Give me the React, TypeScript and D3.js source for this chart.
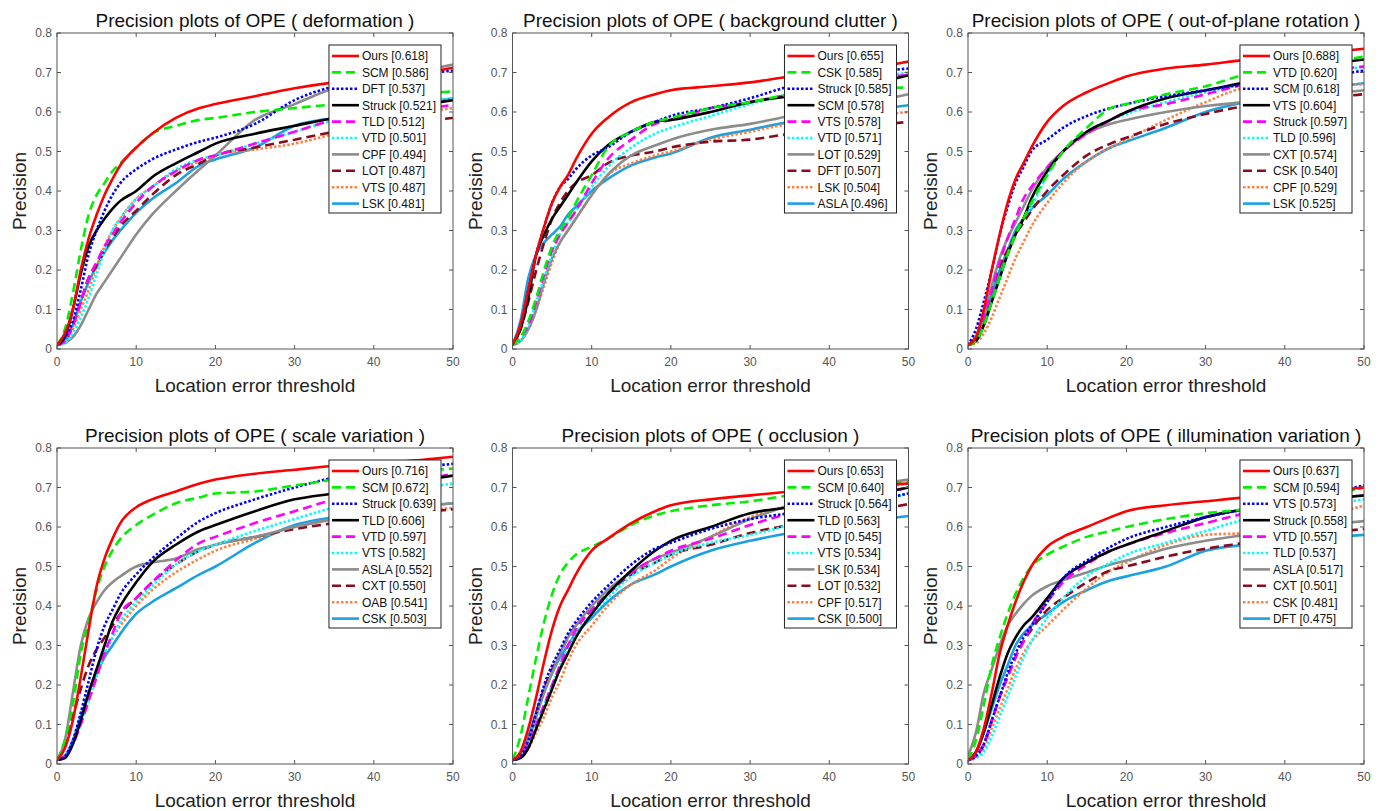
import React from "react";
import * as d3 from "d3";

// ---------------- data ----------------
const thresholds = [0, 1, 2, 3, 4, 5, 6, 7, 8, 10, 12, 15, 18, 20, 25, 30, 35, 40, 45, 50];
const yTicks = [0, 0.1, 0.2, 0.3, 0.4, 0.5, 0.6, 0.7, 0.8];
const xTicks = [0, 10, 20, 30, 40, 50];

const deformationNames = ["Ours", "SCM", "DFT", "Struck", "TLD", "VTD", "CPF", "LOT", "VTS", "LSK"];
const deformationScores = ["0.618", "0.586", "0.537", "0.521", "0.512", "0.501", "0.494", "0.487", "0.487", "0.481"];
const deformationCurves = [
  [0.01, 0.04, 0.10, 0.20, 0.28, 0.34, 0.39, 0.43, 0.465, 0.51, 0.545, 0.585, 0.61, 0.62, 0.64, 0.66, 0.675, 0.685, 0.695, 0.712],
  [0.01, 0.05, 0.14, 0.25, 0.34, 0.39, 0.42, 0.45, 0.47, 0.51, 0.545, 0.565, 0.58, 0.585, 0.60, 0.61, 0.62, 0.635, 0.645, 0.652],
  [0.01, 0.03, 0.07, 0.15, 0.24, 0.30, 0.35, 0.39, 0.42, 0.455, 0.48, 0.505, 0.525, 0.535, 0.57, 0.63, 0.665, 0.685, 0.695, 0.705],
  [0.01, 0.03, 0.10, 0.19, 0.26, 0.30, 0.33, 0.355, 0.375, 0.40, 0.435, 0.47, 0.50, 0.52, 0.545, 0.565, 0.585, 0.60, 0.615, 0.63],
  [0.01, 0.02, 0.06, 0.12, 0.18, 0.22, 0.26, 0.29, 0.32, 0.37, 0.41, 0.45, 0.48, 0.49, 0.52, 0.55, 0.58, 0.595, 0.605, 0.618],
  [0.01, 0.015, 0.04, 0.08, 0.13, 0.19, 0.25, 0.30, 0.33, 0.38, 0.41, 0.455, 0.48, 0.49, 0.52, 0.55, 0.58, 0.60, 0.62, 0.635],
  [0.01, 0.015, 0.03, 0.06, 0.10, 0.14, 0.17, 0.20, 0.23, 0.29, 0.34, 0.40, 0.455, 0.49, 0.58, 0.62, 0.66, 0.68, 0.70, 0.72],
  [0.01, 0.02, 0.06, 0.12, 0.18, 0.21, 0.25, 0.28, 0.31, 0.35, 0.39, 0.44, 0.47, 0.49, 0.51, 0.53, 0.55, 0.565, 0.575, 0.585],
  [0.01, 0.02, 0.05, 0.10, 0.15, 0.21, 0.26, 0.30, 0.33, 0.38, 0.41, 0.45, 0.475, 0.49, 0.505, 0.52, 0.545, 0.575, 0.595, 0.61],
  [0.01, 0.02, 0.06, 0.12, 0.17, 0.21, 0.245, 0.275, 0.30, 0.345, 0.38, 0.42, 0.465, 0.48, 0.51, 0.565, 0.585, 0.60, 0.62, 0.635],
];

const clutterNames = ["Ours", "CSK", "Struck", "SCM", "VTS", "VTD", "LOT", "DFT", "LSK", "ASLA"];
const clutterScores = ["0.655", "0.585", "0.585", "0.578", "0.578", "0.571", "0.529", "0.507", "0.504", "0.496"];
const clutterCurves = [
  [0.01, 0.06, 0.15, 0.24, 0.31, 0.37, 0.41, 0.44, 0.48, 0.545, 0.585, 0.625, 0.645, 0.655, 0.665, 0.675, 0.69, 0.70, 0.71, 0.728],
  [0.01, 0.03, 0.07, 0.13, 0.20, 0.26, 0.30, 0.33, 0.37, 0.44, 0.51, 0.55, 0.575, 0.585, 0.61, 0.625, 0.645, 0.655, 0.66, 0.662],
  [0.01, 0.06, 0.15, 0.24, 0.31, 0.37, 0.41, 0.43, 0.455, 0.49, 0.51, 0.55, 0.575, 0.59, 0.61, 0.635, 0.665, 0.685, 0.70, 0.71],
  [0.01, 0.05, 0.13, 0.24, 0.29, 0.33, 0.36, 0.39, 0.42, 0.475, 0.515, 0.55, 0.575, 0.58, 0.60, 0.625, 0.64, 0.655, 0.67, 0.693],
  [0.01, 0.03, 0.06, 0.12, 0.19, 0.25, 0.29, 0.32, 0.35, 0.42, 0.48, 0.53, 0.57, 0.58, 0.61, 0.625, 0.645, 0.665, 0.68, 0.695],
  [0.01, 0.02, 0.06, 0.12, 0.18, 0.24, 0.29, 0.32, 0.35, 0.41, 0.46, 0.51, 0.545, 0.56, 0.59, 0.62, 0.645, 0.665, 0.685, 0.70],
  [0.01, 0.02, 0.05, 0.10, 0.17, 0.23, 0.27, 0.30, 0.33, 0.39, 0.44, 0.49, 0.515, 0.53, 0.555, 0.57, 0.59, 0.61, 0.625, 0.645],
  [0.01, 0.05, 0.12, 0.20, 0.27, 0.33, 0.37, 0.40, 0.42, 0.44, 0.47, 0.49, 0.50, 0.51, 0.525, 0.53, 0.545, 0.555, 0.565, 0.575],
  [0.01, 0.02, 0.05, 0.10, 0.16, 0.22, 0.27, 0.30, 0.33, 0.39, 0.44, 0.47, 0.49, 0.50, 0.53, 0.55, 0.57, 0.58, 0.59, 0.60],
  [0.01, 0.07, 0.18, 0.24, 0.27, 0.29, 0.31, 0.34, 0.36, 0.40, 0.43, 0.465, 0.485, 0.495, 0.535, 0.555, 0.575, 0.59, 0.605, 0.617],
];

const rotationNames = ["Ours", "VTD", "SCM", "VTS", "Struck", "TLD", "CXT", "CSK", "CPF", "LSK"];
const rotationScores = ["0.688", "0.620", "0.618", "0.604", "0.597", "0.596", "0.574", "0.540", "0.529", "0.525"];
const rotationCurves = [
  [0.01, 0.03, 0.10, 0.20, 0.29, 0.37, 0.43, 0.47, 0.51, 0.575, 0.615, 0.65, 0.675, 0.69, 0.71, 0.72, 0.732, 0.74, 0.75, 0.76],
  [0.01, 0.02, 0.06, 0.12, 0.18, 0.24, 0.29, 0.33, 0.37, 0.44, 0.50, 0.56, 0.61, 0.62, 0.645, 0.665, 0.695, 0.71, 0.725, 0.74],
  [0.01, 0.05, 0.12, 0.20, 0.29, 0.36, 0.42, 0.46, 0.50, 0.53, 0.56, 0.59, 0.61, 0.62, 0.64, 0.655, 0.67, 0.68, 0.69, 0.705],
  [0.01, 0.02, 0.06, 0.12, 0.18, 0.24, 0.29, 0.33, 0.38, 0.45, 0.50, 0.55, 0.58, 0.60, 0.635, 0.655, 0.675, 0.70, 0.72, 0.733],
  [0.01, 0.03, 0.08, 0.15, 0.22, 0.28, 0.33, 0.38, 0.41, 0.46, 0.50, 0.545, 0.58, 0.60, 0.62, 0.645, 0.67, 0.69, 0.705, 0.715],
  [0.01, 0.02, 0.06, 0.12, 0.18, 0.24, 0.29, 0.33, 0.36, 0.44, 0.50, 0.55, 0.58, 0.595, 0.625, 0.65, 0.67, 0.685, 0.70, 0.715],
  [0.01, 0.03, 0.08, 0.16, 0.23, 0.28, 0.32, 0.36, 0.40, 0.46, 0.50, 0.545, 0.57, 0.58, 0.60, 0.615, 0.625, 0.635, 0.645, 0.655],
  [0.01, 0.03, 0.08, 0.15, 0.21, 0.25, 0.29, 0.32, 0.35, 0.40, 0.44, 0.49, 0.52, 0.535, 0.57, 0.595, 0.615, 0.625, 0.635, 0.645],
  [0.01, 0.015, 0.04, 0.08, 0.13, 0.18, 0.23, 0.27, 0.31, 0.37, 0.42, 0.475, 0.51, 0.53, 0.58, 0.625, 0.66, 0.665, 0.668, 0.67],
  [0.01, 0.02, 0.07, 0.14, 0.20, 0.25, 0.30, 0.33, 0.355, 0.39, 0.43, 0.475, 0.51, 0.525, 0.56, 0.60, 0.625, 0.645, 0.66, 0.673],
];

const scaleNames = ["Ours", "SCM", "Struck", "TLD", "VTD", "VTS", "ASLA", "CXT", "OAB", "CSK"];
const scaleScores = ["0.716", "0.672", "0.639", "0.606", "0.597", "0.582", "0.552", "0.550", "0.541", "0.503"];
const scaleCurves = [
  [0.01, 0.04, 0.11, 0.22, 0.34, 0.45, 0.52, 0.57, 0.61, 0.65, 0.67, 0.69, 0.71, 0.72, 0.735, 0.745, 0.755, 0.76, 0.768, 0.778],
  [0.01, 0.06, 0.15, 0.28, 0.36, 0.44, 0.50, 0.54, 0.57, 0.605, 0.63, 0.66, 0.675, 0.685, 0.69, 0.705, 0.72, 0.73, 0.74, 0.748],
  [0.01, 0.02, 0.06, 0.13, 0.21, 0.29, 0.35, 0.39, 0.43, 0.48, 0.52, 0.57, 0.615, 0.635, 0.67, 0.70, 0.725, 0.74, 0.75, 0.76],
  [0.01, 0.015, 0.05, 0.11, 0.18, 0.24, 0.30, 0.36, 0.40, 0.46, 0.51, 0.555, 0.59, 0.605, 0.64, 0.67, 0.685, 0.70, 0.715, 0.73],
  [0.01, 0.02, 0.05, 0.10, 0.16, 0.22, 0.28, 0.33, 0.38, 0.42, 0.46, 0.515, 0.56, 0.575, 0.61, 0.64, 0.67, 0.695, 0.715, 0.735],
  [0.01, 0.02, 0.05, 0.10, 0.16, 0.22, 0.28, 0.32, 0.36, 0.41, 0.45, 0.505, 0.54, 0.555, 0.59, 0.62, 0.65, 0.675, 0.695, 0.71],
  [0.01, 0.06, 0.18, 0.30, 0.37, 0.41, 0.44, 0.46, 0.475, 0.50, 0.51, 0.52, 0.545, 0.555, 0.575, 0.60, 0.62, 0.635, 0.65, 0.66],
  [0.01, 0.05, 0.12, 0.19, 0.25, 0.29, 0.32, 0.35, 0.38, 0.42, 0.46, 0.505, 0.54, 0.555, 0.575, 0.595, 0.61, 0.625, 0.635, 0.645],
  [0.01, 0.02, 0.05, 0.11, 0.18, 0.24, 0.28, 0.32, 0.35, 0.40, 0.44, 0.485, 0.52, 0.54, 0.57, 0.60, 0.62, 0.63, 0.64, 0.648],
  [0.01, 0.02, 0.06, 0.12, 0.18, 0.23, 0.27, 0.30, 0.33, 0.38, 0.41, 0.445, 0.48, 0.50, 0.56, 0.605, 0.625, 0.64, 0.65, 0.66],
];

const occlusionNames = ["Ours", "SCM", "Struck", "TLD", "VTD", "VTS", "LSK", "LOT", "CPF", "CSK"];
const occlusionScores = ["0.653", "0.640", "0.564", "0.563", "0.545", "0.534", "0.534", "0.532", "0.517", "0.500"];
const occlusionCurves = [
  [0.01, 0.03, 0.09, 0.17, 0.26, 0.34, 0.40, 0.44, 0.48, 0.54, 0.57, 0.61, 0.64, 0.655, 0.67, 0.68, 0.69, 0.70, 0.705, 0.71],
  [0.01, 0.07, 0.17, 0.27, 0.36, 0.43, 0.48, 0.51, 0.53, 0.55, 0.57, 0.605, 0.63, 0.64, 0.655, 0.665, 0.68, 0.69, 0.70, 0.715],
  [0.01, 0.02, 0.06, 0.13, 0.20, 0.25, 0.29, 0.33, 0.36, 0.41, 0.45, 0.505, 0.545, 0.56, 0.595, 0.62, 0.635, 0.65, 0.665, 0.685],
  [0.01, 0.015, 0.04, 0.09, 0.14, 0.19, 0.24, 0.28, 0.32, 0.38, 0.43, 0.49, 0.54, 0.565, 0.60, 0.635, 0.65, 0.665, 0.68, 0.70],
  [0.01, 0.02, 0.05, 0.10, 0.15, 0.20, 0.25, 0.30, 0.34, 0.39, 0.43, 0.485, 0.52, 0.54, 0.57, 0.605, 0.635, 0.66, 0.68, 0.70],
  [0.01, 0.02, 0.05, 0.10, 0.15, 0.20, 0.25, 0.29, 0.33, 0.38, 0.42, 0.475, 0.51, 0.53, 0.56, 0.58, 0.605, 0.635, 0.66, 0.685],
  [0.01, 0.02, 0.06, 0.12, 0.18, 0.23, 0.28, 0.32, 0.35, 0.40, 0.44, 0.485, 0.52, 0.535, 0.575, 0.62, 0.655, 0.685, 0.705, 0.72],
  [0.01, 0.02, 0.06, 0.13, 0.19, 0.24, 0.28, 0.32, 0.35, 0.39, 0.43, 0.48, 0.51, 0.53, 0.555, 0.585, 0.605, 0.625, 0.64, 0.658],
  [0.01, 0.015, 0.04, 0.08, 0.12, 0.17, 0.21, 0.26, 0.30, 0.35, 0.40, 0.455, 0.49, 0.52, 0.575, 0.625, 0.655, 0.675, 0.695, 0.71],
  [0.01, 0.02, 0.07, 0.13, 0.19, 0.23, 0.27, 0.30, 0.33, 0.37, 0.41, 0.455, 0.48, 0.50, 0.54, 0.565, 0.585, 0.60, 0.615, 0.628],
];

const illuminationNames = ["Ours", "SCM", "VTS", "Struck", "VTD", "TLD", "ASLA", "CXT", "CSK", "DFT"];
const illuminationScores = ["0.637", "0.594", "0.573", "0.558", "0.557", "0.537", "0.517", "0.501", "0.481", "0.475"];
const illuminationCurves = [
  [0.01, 0.03, 0.09, 0.18, 0.28, 0.35, 0.41, 0.46, 0.50, 0.55, 0.575, 0.60, 0.625, 0.64, 0.655, 0.665, 0.675, 0.68, 0.69, 0.70],
  [0.01, 0.06, 0.15, 0.25, 0.32, 0.38, 0.43, 0.47, 0.50, 0.53, 0.55, 0.575, 0.59, 0.60, 0.62, 0.635, 0.645, 0.66, 0.68, 0.70],
  [0.01, 0.02, 0.05, 0.11, 0.17, 0.23, 0.28, 0.32, 0.35, 0.41, 0.47, 0.515, 0.55, 0.57, 0.60, 0.625, 0.645, 0.665, 0.685, 0.705],
  [0.01, 0.03, 0.08, 0.15, 0.22, 0.28, 0.32, 0.35, 0.37, 0.42, 0.47, 0.51, 0.54, 0.555, 0.59, 0.625, 0.645, 0.66, 0.67, 0.68],
  [0.01, 0.02, 0.05, 0.11, 0.17, 0.22, 0.27, 0.31, 0.35, 0.41, 0.46, 0.505, 0.54, 0.555, 0.585, 0.61, 0.635, 0.66, 0.68, 0.70],
  [0.01, 0.015, 0.03, 0.07, 0.12, 0.17, 0.22, 0.27, 0.31, 0.37, 0.42, 0.475, 0.51, 0.53, 0.56, 0.59, 0.62, 0.64, 0.655, 0.67],
  [0.02, 0.08, 0.18, 0.24, 0.30, 0.35, 0.38, 0.405, 0.425, 0.45, 0.465, 0.485, 0.505, 0.515, 0.545, 0.565, 0.58, 0.595, 0.605, 0.615],
  [0.01, 0.02, 0.05, 0.11, 0.17, 0.22, 0.27, 0.31, 0.34, 0.39, 0.42, 0.46, 0.49, 0.50, 0.525, 0.545, 0.56, 0.575, 0.585, 0.595],
  [0.01, 0.015, 0.04, 0.09, 0.14, 0.19, 0.24, 0.28, 0.31, 0.35, 0.39, 0.445, 0.49, 0.51, 0.555, 0.58, 0.585, 0.60, 0.625, 0.655],
  [0.01, 0.03, 0.08, 0.14, 0.20, 0.25, 0.30, 0.33, 0.35, 0.38, 0.41, 0.44, 0.465, 0.475, 0.50, 0.54, 0.555, 0.565, 0.573, 0.58],
];

const panelTitles = [
  "Precision plots of OPE ( deformation )",
  "Precision plots of OPE ( background clutter )",
  "Precision plots of OPE ( out-of-plane rotation )",
  "Precision plots of OPE ( scale variation )",
  "Precision plots of OPE ( occlusion )",
  "Precision plots of OPE ( illumination variation )",
];

// ---------------- styles ----------------
const rankColors = ["#ff0000", "#00f000", "#0000ff", "#000000", "#ff00ff", "#00ffff", "#8c8c8c", "#8b0a1e", "#ff8040", "#1ba1e2"];
const rankDash = ["", "9,5", "2.5,2", "", "9,5", "2.5,2", "", "9,5", "2.5,2", ""];

const FONT = "Liberation Sans, Arial, Helvetica, sans-serif";
const W = 1384;
const H = 811;
const PW = 396;
const PH = 316;
const colLeft = (c: number) => 57 + c * 455.5;
const rowTop = (r: number) => 33 + r * 415;

function textWidth(s: string, size: number) {
  const cv = document.createElement("canvas");
  const ctx = cv.getContext("2d");
  if (!ctx) return s.length * size * 0.5;
  ctx.font = `${size}px ${FONT}`;
  return ctx.measureText(s).width;
}

function Panel({ idx, names, scores, curves }: { idx: number; names: string[]; scores: string[]; curves: number[][] }) {
  const c = idx % 3;
  const r = Math.floor(idx / 3);
  const left = colLeft(c);
  const top = rowTop(r);
  const x = d3.scaleLinear().domain([0, 50]).range([left, left + PW]);
  const y = d3.scaleLinear().domain([0, 0.8]).range([top + PH, top]);
  const line = d3
    .line<number>()
    .x((_, i) => x(thresholds[i]))
    .y((d) => y(d))
    .curve(d3.curveMonotoneX);

  const labels = names.map((n, i) => `${n} [${scores[i]}]`);
  const maxW = Math.max(...labels.map((l) => textWidth(l, 12)));
  const legW = 3 + 27 + 4 + maxW + 4;
  const legRight = left + PW - 12;
  const legLeft = legRight - legW;
  const legTop = top + 12;
  const rowH = 16.4;
  const legH = rowH * 10 + 4;
  const clipId = `clip${idx}`;
  const axisColor = "#555";

  return (
    <g>
      <defs>
        <clipPath id={clipId}>
          <rect x={left} y={top} width={PW} height={PH} />
        </clipPath>
      </defs>
      <rect x={left} y={top} width={PW} height={PH} fill="#fff" />
      <g clipPath={`url(#${clipId})`}>
        {curves
          .map((cv, i) => ({ cv, i }))
          .reverse()
          .map(({ cv, i }) => (
            <path
              key={i}
              d={line(cv) || ""}
              fill="none"
              stroke={rankColors[i]}
              strokeWidth={2.6}
              strokeDasharray={rankDash[i] || undefined}
            />
          ))}
      </g>
      <rect x={left} y={top} width={PW} height={PH} fill="none" stroke={axisColor} strokeWidth={1} />
      {yTicks.map((t) => (
        <g key={`y${t}`}>
          <line x1={left} x2={left + 4} y1={y(t)} y2={y(t)} stroke={axisColor} />
          <line x1={left + PW - 4} x2={left + PW} y1={y(t)} y2={y(t)} stroke={axisColor} />
          <text x={left - 5} y={y(t) + 4} textAnchor="end" fontSize={12} fill="#555" fontFamily={FONT}>
            {t === 0 ? "0" : d3.format(".1f")(t)}
          </text>
        </g>
      ))}
      {xTicks.map((t) => (
        <g key={`x${t}`}>
          <line x1={x(t)} x2={x(t)} y1={top + PH} y2={top + PH - 4} stroke={axisColor} />
          <line x1={x(t)} x2={x(t)} y1={top} y2={top + 4} stroke={axisColor} />
          <text x={x(t)} y={top + PH + 17} textAnchor="middle" fontSize={12} fill="#555" fontFamily={FONT}>
            {t}
          </text>
        </g>
      ))}
      <text x={left + PW / 2} y={top - 6} textAnchor="middle" fontSize={19} fill="#111" fontFamily={FONT}>
        {panelTitles[idx]}
      </text>
      <text x={left + PW / 2} y={top + PH + 43} textAnchor="middle" fontSize={19} fill="#222" fontFamily={FONT}>
        Location error threshold
      </text>
      <text
        transform={`translate(${left - 31},${top + PH / 2}) rotate(-90)`}
        textAnchor="middle"
        fontSize={19}
        fill="#222"
        fontFamily={FONT}
      >
        Precision
      </text>
      <rect x={legLeft} y={legTop} width={legW} height={legH} fill="#fff" stroke="#222" strokeWidth={1} />
      {labels.map((l, i) => {
        const cy = legTop + 11 + i * rowH;
        return (
          <g key={`l${i}`}>
            <line
              x1={legLeft + 3}
              x2={legLeft + 30}
              y1={cy}
              y2={cy}
              stroke={rankColors[i]}
              strokeWidth={2.6}
              strokeDasharray={rankDash[i] || undefined}
            />
            <text x={legLeft + 33} y={cy + 4.3} fontSize={12} fill="#111" fontFamily={FONT}>
              {l}
            </text>
          </g>
        );
      })}
    </g>
  );
}

export default function App() {
  const panels = [
    { names: deformationNames, scores: deformationScores, curves: deformationCurves },
    { names: clutterNames, scores: clutterScores, curves: clutterCurves },
    { names: rotationNames, scores: rotationScores, curves: rotationCurves },
    { names: scaleNames, scores: scaleScores, curves: scaleCurves },
    { names: occlusionNames, scores: occlusionScores, curves: occlusionCurves },
    { names: illuminationNames, scores: illuminationScores, curves: illuminationCurves },
  ];
  return (
    <svg
      width={W}
      height={H}
      viewBox={`0 0 ${W} ${H}`}
      style={{ position: "absolute", left: 0, top: 0, background: "#fff" }}
    >
      <rect width={W} height={H} fill="#fff" />
      {panels.map((p, i) => (
        <Panel key={i} idx={i} names={p.names} scores={p.scores} curves={p.curves} />
      ))}
    </svg>
  );
}
